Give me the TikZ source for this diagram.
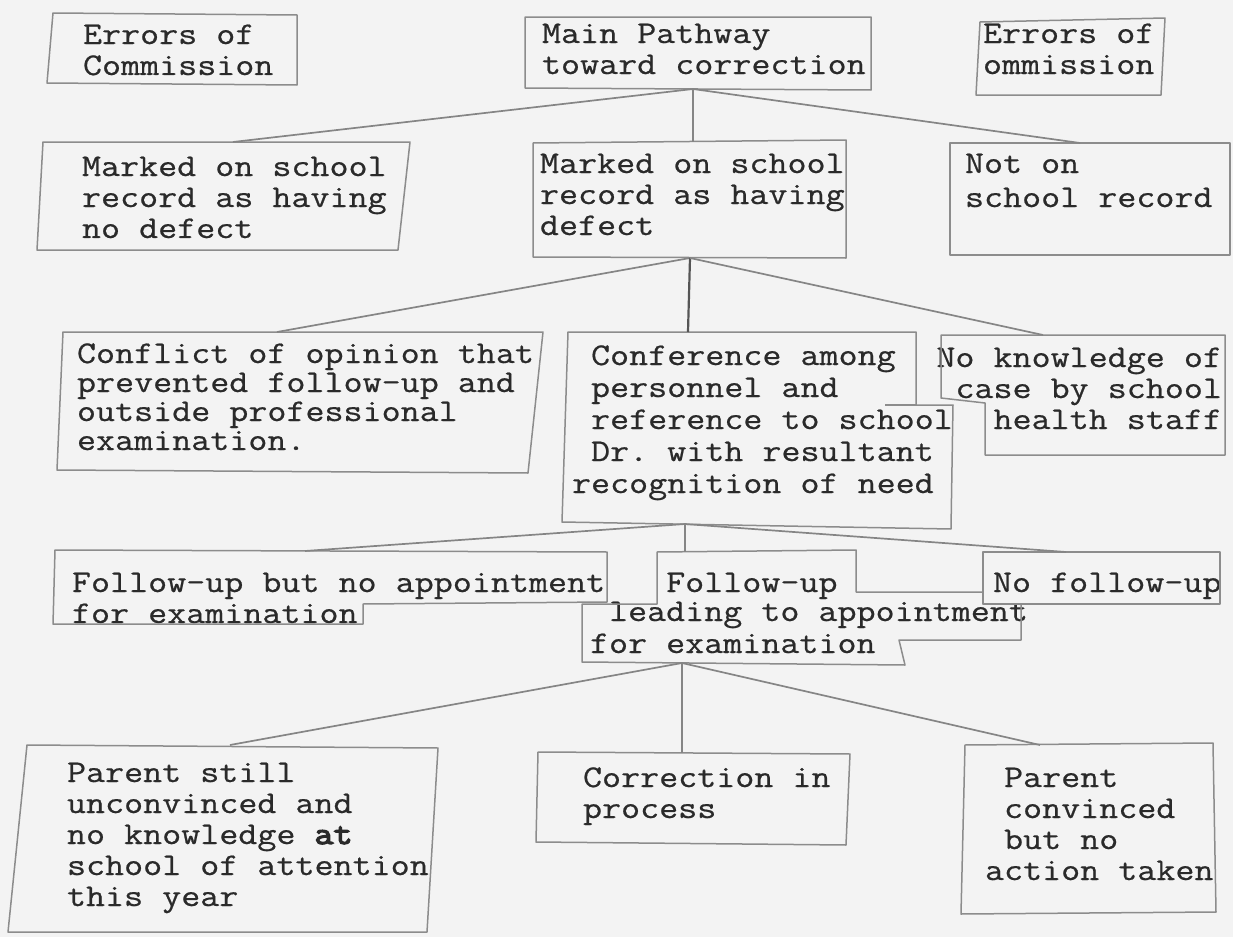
\documentclass[tikz,border=0pt]{standalone}
\usepackage{fontspec}
\setmonofont{Latin Modern Mono}[FakeStretch=1.17, FakeBold=0.6]
\newfontfamily\twbold{Latin Modern Mono}[FakeStretch=1.17, FakeBold=4]
\definecolor{paper}{HTML}{F3F3F3}
\definecolor{boxc}{HTML}{8C8C8C}
\definecolor{linkc}{HTML}{858585}
\definecolor{txtc}{HTML}{2A2A2A}
\begin{document}
\begin{tikzpicture}[x=0.5pt,y=-0.5pt,
  box/.style={draw=boxc, line width=0.75pt, line join=round},
  link/.style={draw=linkc, line width=0.85pt},
  darklink/.style={draw=txtc!80, line width=1.1pt},
  txt/.style={anchor=base west, inner sep=0pt, outer sep=0pt, text=txtc,
    font=\ttfamily\fontsize{15.8}{15.5}\selectfont},
  txtr/.style={txt, anchor=base east}]
\useasboundingbox (0,0) rectangle (1233,937);
\fill[paper] (0,0) rectangle (1233,937);

% ---- text nodes ----
\node[txt] (A) at (83,44) {\begin{tabular}[t]{@{}l@{}}Errors of\\Commission\end{tabular}};
\node[txt] (B) at (542,43) {\begin{tabular}[t]{@{}l@{}}Main Pathway\\toward correction\end{tabular}};
\node[txt] (C) at (983,43) {\begin{tabular}[t]{@{}l@{}}Errors of\\ommission\end{tabular}};
\node[txt] (D) at (82,176) {\begin{tabular}[t]{@{}l@{}}Marked on school\\record as having\\no defect\end{tabular}};
\node[txt] (E) at (540,173) {\begin{tabular}[t]{@{}l@{}}Marked on school\\record as having\\defect\end{tabular}};
\node[txt] (F) at (965,173) {\begin{tabular}[t]{@{}l@{}}Not on\\[1.5pt]school record\end{tabular}};
\node[txt] (G) at (77,363) {\begin{tabular}[t]{@{}l@{}}Conflict of opinion that\\[-1pt]prevented follow-up and\\[-1pt]outside professional\\[-1pt]examination.\end{tabular}};
\node[txt] (H) at (572,365) {\begin{tabular}[t]{@{}l@{}}\hphantom{x}Conference among\\[0.5pt]\hphantom{x}personnel and\\[0.5pt]\hphantom{x}reference to school\\[0.5pt]\hphantom{x}Dr. with resultant\\[0.5pt]recognition of need\end{tabular}};
\node[txtr] (I) at (1222,367) {\begin{tabular}[t]{@{}r@{}}No knowledge of\\case by school\\health staff\end{tabular}};
\node[txt] (J) at (72,592) {\begin{tabular}[t]{@{}l@{}}Follow-up but no appointment\\for examination\end{tabular}};
\node[txt] (L) at (590,592) {\begin{tabular}[t]{@{}l@{}}\hphantom{xxxx}Follow-up\\[-1pt]\hphantom{x}leading to appointment\\[0.5pt]for examination\end{tabular}};
\node[txt] (M) at (993,592) {No follow-up};
\node[txt] (K) at (67,782) {\begin{tabular}[t]{@{}l@{}}Parent still\\unconvinced and\\no knowledge {\twbold at}\\school of attention\\this year\end{tabular}};
\node[txt] (N) at (583,787) {\begin{tabular}[t]{@{}l@{}}Correction in\\process\end{tabular}};
\node[txt] (O) at (985,787) {\begin{tabular}[t]{@{}l@{}}\hphantom{x}Parent\\\hphantom{x}convinced\\\hphantom{x}but no\\action taken\end{tabular}};

% ---- box outlines ----
\draw[box] (53,13) -- (297,15) -- (297,85) -- (47,83) -- cycle;
\draw[box] (525,17) -- (871,17) -- (871,90) -- (525,88) -- cycle;
\draw[box] (980,22) -- (1165,18) -- (1161,95) -- (976,95) -- cycle;
\draw[box] (43,142) -- (410,142) -- (398,250) -- (37,250) -- cycle;
\draw[box] (533,143) -- (846,140) -- (846,258) -- (533,257) -- cycle;
\draw[box] (950,143) -- (1230,143) -- (1230,255) -- (950,255) -- cycle;
\draw[box] (63,332) -- (543,332) -- (528,473) -- (57,470) -- cycle;
\draw[box] (568,332) -- (916,332) -- (916,405) -- (953,405) -- (951,529) -- (562,522) -- cycle;
\draw[box] (885,405) -- (916,405);
\draw[box] (941,335) -- (1225,335) -- (1225,455) -- (985,455) -- (985,403) -- (941,398) -- cycle;
\draw[box] (55,550) -- (607,552) -- (607,602) -- (363,604) -- (363,624) -- (53,624) -- cycle;
\draw[box] (657,552) -- (856,550) -- (856,592) -- (983,592) -- (983,604) -- (1021,604) -- (1021,640) -- (899,640) -- (905,665) -- (582,662) -- (582,604) -- (657,604) -- cycle;
\draw[box] (983,552) -- (1220,552) -- (1220,604) -- (983,604) -- cycle;
\draw[box] (27,745) -- (438,748) -- (427,932) -- (8,932) -- cycle;
\draw[box] (538,752) -- (850,754) -- (846,845) -- (536,842) -- cycle;
\draw[box] (965,745) -- (1213,743) -- (1216,912) -- (961,914) -- cycle;

% ---- attachment points ----
\coordinate (B-s) at (693,89);
\coordinate (D-n) at (233,142);
\coordinate (E-n) at (693,142);
\coordinate (F-n) at (1080,143);
\coordinate (E-s) at (690,258);
\coordinate (G-n) at (277,332);
\coordinate (H-n) at (688,332);
\coordinate (I-n) at (1043,335);
\coordinate (H-s) at (685,524);
\coordinate (J-n) at (305,551);
\coordinate (L-n) at (685,552);
\coordinate (M-n) at (1066,552);
\coordinate (L-s) at (682,663);
\coordinate (K-n) at (230,745);
\coordinate (N-n) at (682,753);
\coordinate (O-n) at (1040,745);

% ---- connectors ----
\draw[link] (B-s) -- (D-n);
\draw[link] (B-s) -- (E-n);
\draw[link] (B-s) -- (F-n);
\draw[link] (E-s) -- (G-n);
\draw[darklink] (E-s) -- (H-n);
\draw[link] (E-s) -- (I-n);
\draw[link] (H-s) -- (J-n);
\draw[link] (H-s) -- (L-n);
\draw[link] (H-s) -- (M-n);
\draw[link] (L-s) -- (K-n);
\draw[link] (L-s) -- (N-n);
\draw[link] (L-s) -- (O-n);
\end{tikzpicture}
\end{document}
